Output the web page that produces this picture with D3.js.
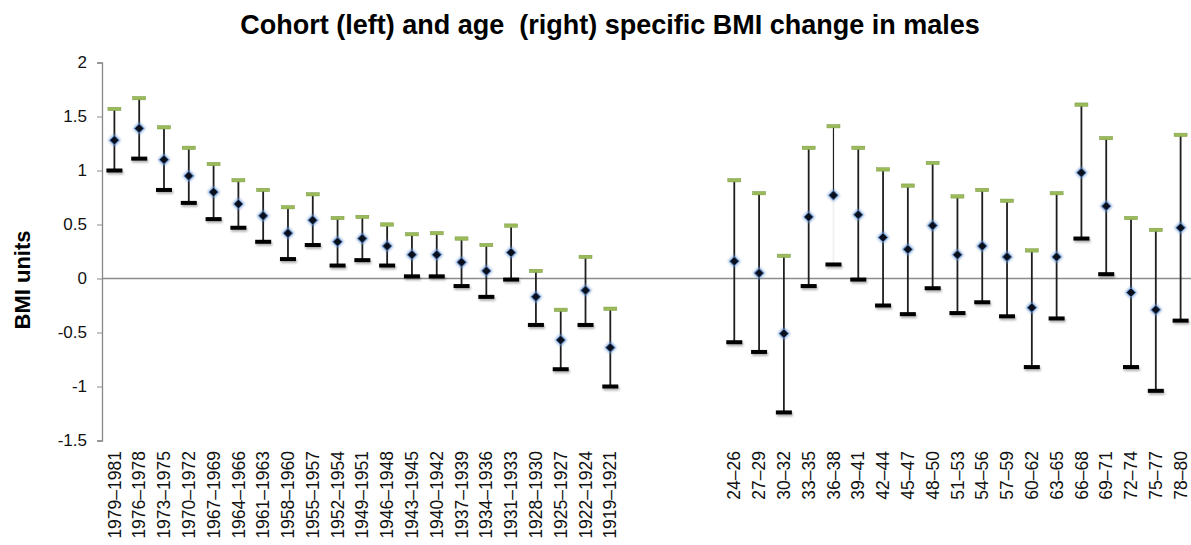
<!DOCTYPE html>
<html lang="en">
  <head>
    <meta charset="UTF-8" />
    <title>BMI change in males</title>
    <script src="https://d3js.org/d3.v7.min.js"></script>
    <style>
      body { margin: 0; background: #fff; }
      text { font-family: 'Liberation Sans', Arial, sans-serif; }
    </style>
  </head>
  <body>
    <svg id="chart" width="1191" height="545"></svg>
    <script>
      // Cohort groups (left) and age groups (right)
      const cohorts = ['1979–1981', '1976–1978', '1973–1975', '1970–1972', '1967–1969', '1964–1966',
        '1961–1963', '1958–1960', '1955–1957', '1952–1954', '1949–1951', '1946–1948', '1943–1945',
        '1940–1942', '1937–1939', '1934–1936', '1931–1933', '1928–1930', '1925–1927', '1922–1924', '1919–1921']
      const cohortMid = [1.28, 1.39, 1.10, 0.95, 0.80, 0.69, 0.58, 0.42, 0.54, 0.34, 0.37, 0.30, 0.22,
        0.22, 0.15, 0.07, 0.24, -0.17, -0.57, -0.11, -0.64]
      const cohortHigh = [1.57, 1.67, 1.40, 1.21, 1.06, 0.91, 0.82, 0.66, 0.78, 0.56, 0.57, 0.50, 0.41,
        0.42, 0.37, 0.31, 0.49, 0.07, -0.29, 0.20, -0.28]
      const cohortLow = [1.00, 1.11, 0.82, 0.70, 0.55, 0.47, 0.34, 0.18, 0.31, 0.12, 0.17, 0.12, 0.02,
        0.02, -0.07, -0.17, -0.01, -0.43, -0.84, -0.43, -1.00]

      const ages = ['24–26', '27–29', '30–32', '33–35', '36–38', '39–41', '42–44', '45–47', '48–50',
        '51–53', '54–56', '57–59', '60–62', '63–65', '66–68', '69–71', '72–74', '75–77', '78–80']
      const ageMid = [0.16, 0.05, -0.51, 0.57, 0.77, 0.59, 0.38, 0.27, 0.49, 0.22, 0.30, 0.20, -0.27,
        0.20, 0.98, 0.67, -0.13, -0.29, 0.47]
      const ageHigh = [0.91, 0.79, 0.21, 1.21, 1.41, 1.21, 1.01, 0.86, 1.07, 0.76, 0.82, 0.72, 0.26,
        0.79, 1.61, 1.30, 0.56, 0.45, 1.33]
      const ageLow = [-0.59, -0.68, -1.24, -0.07, 0.13, -0.01, -0.25, -0.33, -0.09, -0.32, -0.22, -0.35,
        -0.82, -0.37, 0.37, 0.04, -0.82, -1.04, -0.39]

      const gapSlots = ['g1', 'g2', 'g3', 'g4'] // empty slots between the two panels
      const yTicks = [-1.5, -1, -0.5, 0, 0.5, 1, 1.5, 2]

      const svg = d3.select('#chart')

      const rows = cohorts.map((c, i) => ({ cat: c, mid: cohortMid[i], hi: cohortHigh[i], lo: cohortLow[i] }))
        .concat(ages.map((c, i) => ({ cat: c, mid: ageMid[i], hi: ageHigh[i], lo: ageLow[i] })))

      const x = d3.scaleBand()
        .domain(cohorts.concat(gapSlots, ages))
        .range([102, 1193])
      const y = d3.scaleLinear().domain([-1.5, 2]).range([440.5, 62.5])
      const cx = d => x(d) + x.bandwidth() / 2

      // shadow for the caps
      const defs = svg.append('defs')
      defs.append('filter').attr('id', 'shadow')
        .attr('x', '-20%').attr('y', '-50%').attr('width', '140%').attr('height', '250%')
        .append('feDropShadow')
        .attr('dx', 1).attr('dy', 2).attr('stdDeviation', 1)
        .attr('flood-color', '#000').attr('flood-opacity', 0.3)
      const glow = defs.append('filter').attr('id', 'glow')
        .attr('x', '-60%').attr('y', '-60%').attr('width', '220%').attr('height', '220%')
      glow.append('feGaussianBlur').attr('stdDeviation', 1.2)

      // title
      svg.append('text')
        .attr('x', 610).attr('y', 34)
        .attr('text-anchor', 'middle')
        .attr('font-size', 27).attr('font-weight', 'bold')
        .text('Cohort (left) and age  (right) specific BMI change in males')
        .style('white-space', 'pre')

      // y axis title
      svg.append('text')
        .attr('transform', 'translate(30,280) rotate(-90)')
        .attr('text-anchor', 'middle')
        .attr('font-size', 22).attr('font-weight', 'bold')
        .text('BMI units')

      // y axis
      const yAxis = svg.append('g')
        .attr('transform', 'translate(102,0)')
        .call(d3.axisLeft(y).tickValues(yTicks).tickSize(5).tickPadding(10).tickFormat(d => String(d)))
      yAxis.select('.domain').attr('stroke', '#888').attr('stroke-width', 1.3)
      yAxis.selectAll('.tick line').attr('stroke', '#888')
      yAxis.selectAll('.tick text').attr('font-size', 17).attr('fill', '#111')
        .attr('font-family', "'Liberation Sans', Arial, sans-serif")

      // zero line (category axis)
      svg.append('line')
        .attr('x1', 102).attr('x2', 1191)
        .attr('y1', y(0)).attr('y2', y(0))
        .attr('stroke', '#8c8c8c').attr('stroke-width', 1.5)

      // category labels
      svg.append('g').selectAll('text')
        .data(cohorts.concat(ages))
        .join('text')
        .attr('transform', d => `translate(${cx(d)},451) rotate(-90)`)
        .attr('text-anchor', 'end')
        .attr('dy', '0.35em')
        .attr('font-size', 17.5)
        .attr('fill', '#111')
        .text(d => d)

      const bars = svg.append('g').selectAll('g')
        .data(rows)
        .join('g')

      // whiskers (the 36–38 lower part is barely visible in the source)
      bars.append('line')
        .attr('x1', d => cx(d.cat)).attr('x2', d => cx(d.cat))
        .attr('y1', d => y(d.hi)).attr('y2', d => y(d.mid))
        .attr('stroke', '#1e1e1e').attr('stroke-width', d => d.cat === '36–38' ? 1.2 : 1.8)
      bars.append('line')
        .attr('x1', d => cx(d.cat)).attr('x2', d => cx(d.cat))
        .attr('y1', d => y(d.mid)).attr('y2', d => y(d.lo))
        .attr('stroke', d => d.cat === '36–38' ? '#f0f0f0' : '#1e1e1e')
        .attr('stroke-width', 1.8)

      // lower caps
      bars.append('rect')
        .attr('x', d => cx(d.cat) - 8).attr('y', d => y(d.lo) - 2)
        .attr('width', 16).attr('height', 4)
        .attr('fill', '#000')
        .attr('filter', 'url(#shadow)')

      // upper caps
      bars.append('rect')
        .attr('x', d => cx(d.cat) - 6.5).attr('y', d => y(d.hi) - 1.7)
        .attr('width', 13).attr('height', 3.4)
        .attr('fill', '#9bbb59').attr('stroke', '#7a9a48').attr('stroke-width', 0.5)

      // estimate markers
      const diamond = d3.symbol(d3.symbolSquare, 42)
      bars.append('path')
        .attr('d', d3.symbol(d3.symbolSquare, 80))
        .attr('transform', d => `translate(${cx(d.cat)},${y(d.mid)}) rotate(45)`)
        .attr('fill', '#6a93cf').attr('opacity', 0.75)
        .attr('filter', 'url(#glow)')
      bars.append('path')
        .attr('d', diamond)
        .attr('transform', d => `translate(${cx(d.cat)},${y(d.mid)}) rotate(45)`)
        .attr('fill', '#0a0f1e').attr('stroke', '#4f81bd').attr('stroke-width', 0.8)
    </script>
  </body>
</html>
